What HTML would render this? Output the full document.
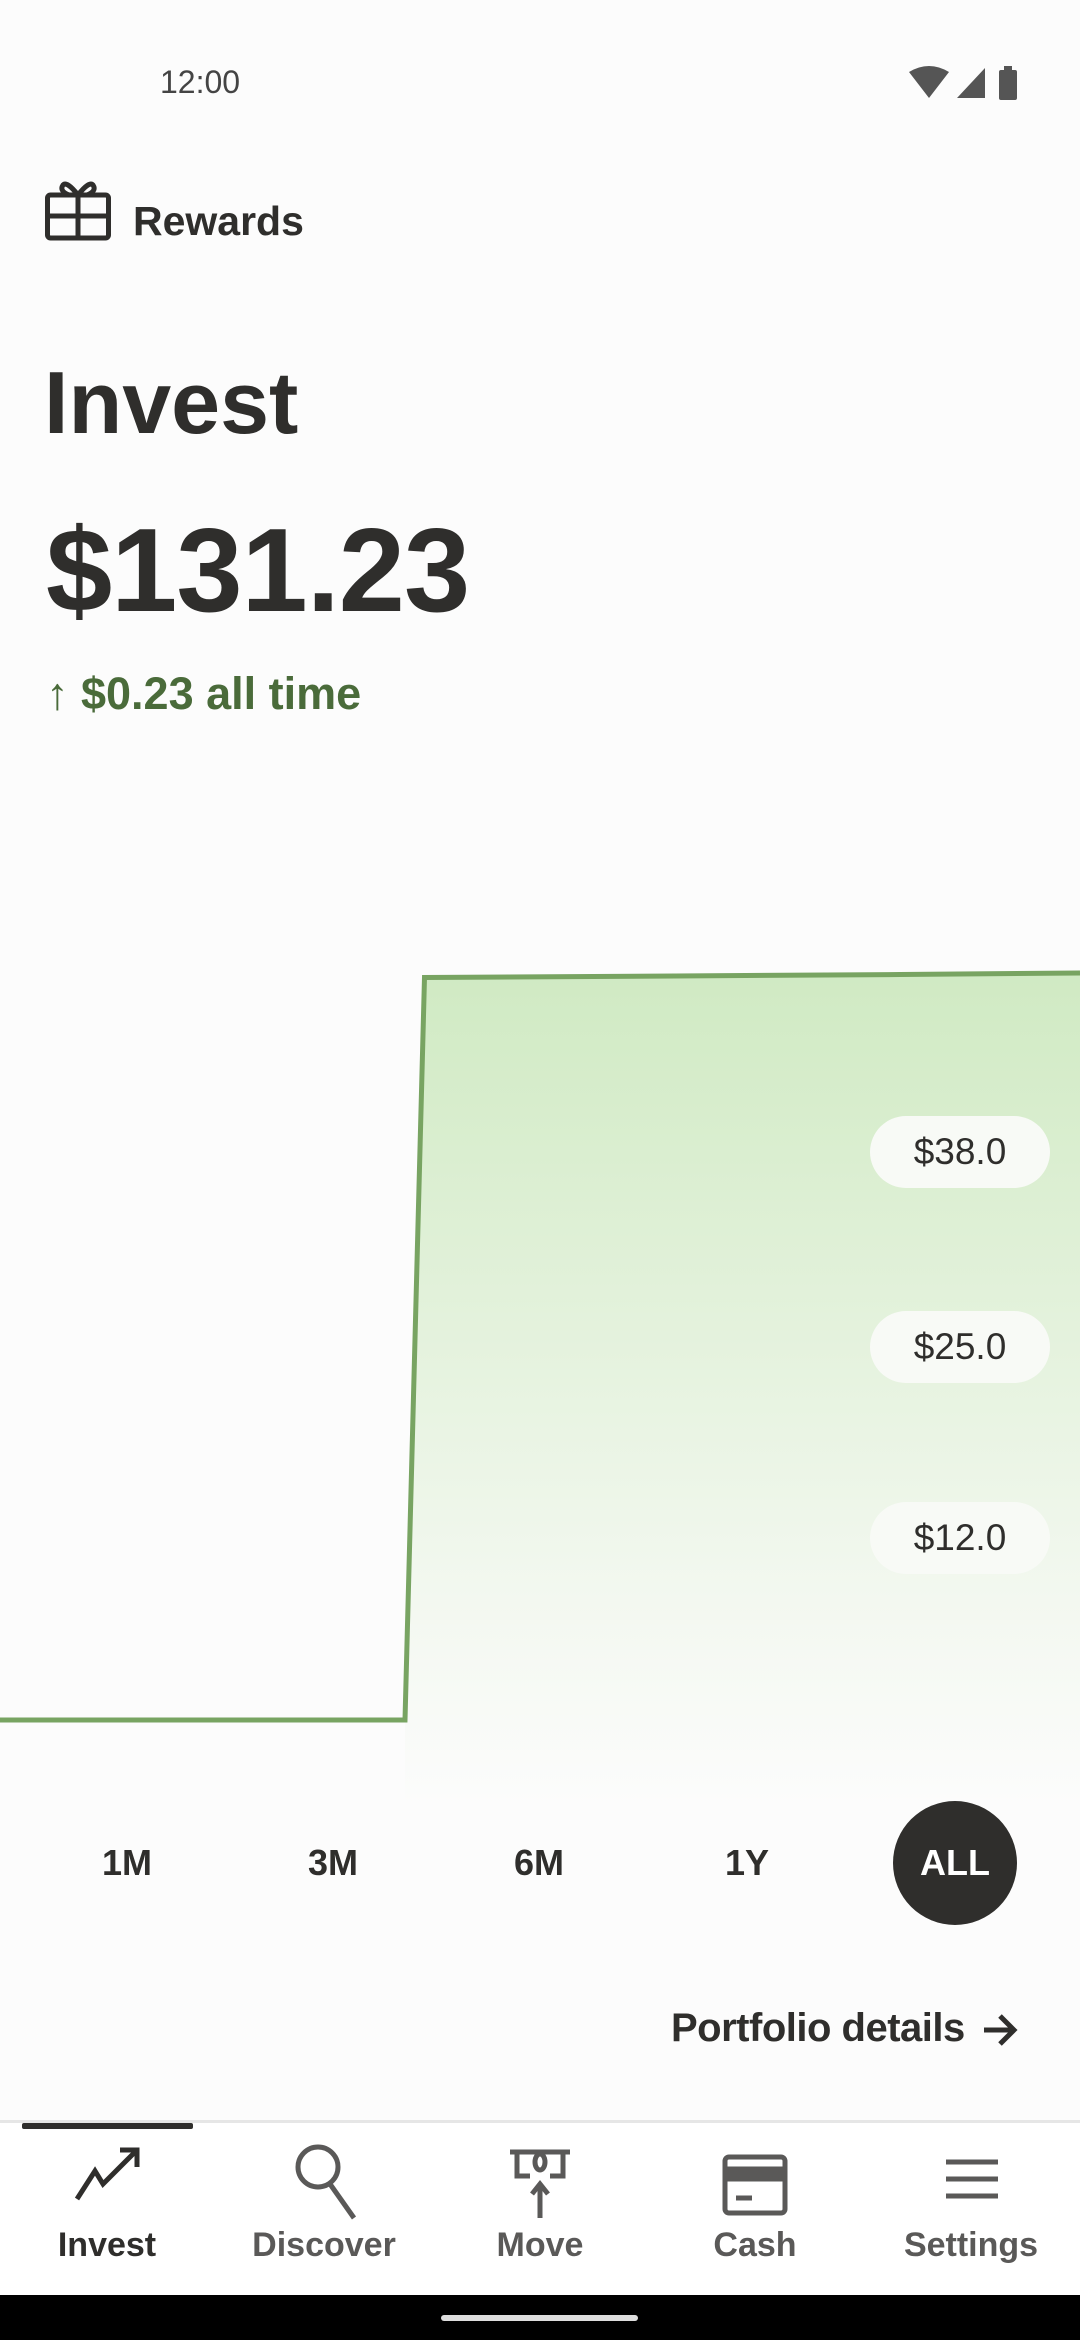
<!DOCTYPE html>
<html><head><meta charset="utf-8"><style>
body{margin:0;width:1080px;height:2340px;background:#fcfcfc;font-family:"Liberation Sans",sans-serif;color:#2f2e2c;position:relative;overflow:hidden}
.a{position:absolute;white-space:nowrap}
.pill{position:absolute;left:870px;width:180px;height:72px;border-radius:36px;background:#f8faf6;font-size:37px;text-align:center;line-height:72px;color:#2f2e2c}
.tr{position:absolute;top:1836px;font-size:36px;font-weight:bold;width:120px;text-align:center;line-height:54px}
.nav{position:absolute;top:2226px;font-size:34px;font-weight:bold;width:200px;text-align:center;color:#5a5958}
</style></head><body>
<div class="a" style="left:160px;top:64px;font-size:32px;color:#444">12:00</div>
<svg class="a" style="left:905px;top:64px" width="125" height="40">
<path d="M4 8 Q24 -4 44 8 L24 34 Z" fill="#555"/><path d="M52 34 L80 4 L80 34 Z" fill="#555"/><rect x="94" y="6" width="18" height="30" rx="2" fill="#555"/><rect x="99" y="2" width="8" height="5" fill="#555"/></svg>

<div>
<svg class="a" style="left:45px;top:179px" width="66" height="62" fill="none" stroke="#2f2e2c" stroke-width="5">
<rect x="2.5" y="16" width="61" height="43" rx="3"/><line x1="2.5" y1="37" x2="63.5" y2="37"/><line x1="33" y1="16" x2="33" y2="59"/>
<path d="M33 16 Q22 2 18 6 Q14 12 24 16 M33 16 Q44 2 48 6 Q52 12 42 16"/></svg>
<div class="a" style="left:133px;top:198px;font-size:41px;font-weight:bold">Rewards</div>
</div>

<div class="a" style="left:44px;top:352px;font-size:88px;font-weight:bold">Invest</div>
<div class="a" style="left:46px;top:502px;font-size:119px;font-weight:bold;letter-spacing:-1px">$131.23</div>
<div class="a" style="left:46px;top:668px;font-size:45px;font-weight:bold;color:#4a6b3a">↑ $0.23 all time</div>

<svg class="a" id="chart" style="left:0;top:0" width="1080" height="1810">
<defs><linearGradient id="g" x1="0" y1="0" x2="0" y2="1"><stop offset="0" stop-color="#d0eac3"/><stop offset="0.75" stop-color="#f3f8f0"/><stop offset="1" stop-color="#fcfcfc"/></linearGradient></defs>
</svg>
<div class="pill" style="top:1116px">$38.0</div>
<div class="pill" style="top:1311px">$25.0</div>
<div class="pill" style="top:1502px">$12.0</div>

<div class="tr" style="left:67px">1M</div>
<div class="tr" style="left:273px">3M</div>
<div class="tr" style="left:479px">6M</div>
<div class="tr" style="left:687px">1Y</div>
<div class="tr" style="left:893px;top:1801px;width:124px;height:124px;border-radius:62px;background:#2f2e2c;color:#fff;line-height:124px">ALL</div>

<div class="a" style="left:671px;top:2006px;font-size:40px;font-weight:bold;letter-spacing:-0.5px">Portfolio details</div>
<svg class="a" style="left:980px;top:2010px" width="40" height="40" fill="none" stroke="#2f2e2c" stroke-width="5"><path d="M4 20 L34 20 M20 6 L34 20 L20 34"/></svg>

<div class="a" style="left:0;top:2120px;width:1080px;height:175px;background:#fff;border-top:3px solid #e6e6e6">
<div class="a" style="left:22px;top:0;width:171px;height:6px;background:#2f2e2c;border-radius:2px"></div>
</div>
<svg class="a" style="left:0;top:2140px" width="1080" height="80" fill="none" stroke="#5a5958" stroke-width="5">
<path d="M77 59 L95 31 L103 44 L137 10 M120 10 L137 10 L137 27" stroke="#2f2e2c"/>
<circle cx="318" cy="27" r="20"/><line x1="330" y1="44" x2="354" y2="78"/>
<path d="M510 12 L570 12 M517 12 L517 36 L530 36 M563 12 L563 36 L550 36 M540 78 L540 44 M532 54 L540 44 L548 54"/><ellipse cx="540" cy="22" rx="5" ry="8"/>
<rect x="725" y="17" width="60" height="56" rx="4"/><rect x="725" y="29" width="60" height="10" fill="#5a5958"/><line x1="736" y1="58" x2="752" y2="58"/>
<path d="M946 22 L998 22 M946 39 L998 39 M946 56 L998 56"/>
</svg>
<div class="nav" style="left:7px;color:#2f2e2c">Invest</div>
<div class="nav" style="left:224px">Discover</div>
<div class="nav" style="left:440px">Move</div>
<div class="nav" style="left:655px">Cash</div>
<div class="nav" style="left:871px">Settings</div>
<div class="a" style="left:0;top:2295px;width:1080px;height:45px;background:#000">
<div class="a" style="left:441px;top:20px;width:197px;height:6px;border-radius:3px;background:#ddd"></div></div>

<script>
const days = [0, 27, 28.3, 45, 60, 72];
const values = [0, 0, 50.0, 50.1, 50.2, 50.3];
const ticks = [38, 25, 12];
const X0 = 0, X1 = 1080, dMax = 72;
function x(d){ return X0 + (X1 - X0) * d / dMax; }
function y(v){ return 1720 - v * 14.85; }
const svg = document.getElementById('chart');
const NS = 'http://www.w3.org/2000/svg';
let pts = days.map((d,i)=>x(d).toFixed(1)+','+y(values[i]).toFixed(1));
let firstUp = values.findIndex(v=>v>0);
let areaPts = [x(days[firstUp-1])+',1810'].concat(pts.slice(firstUp-1)).concat([x(days[days.length-1])+',1810']);
const area = document.createElementNS(NS,'polygon');
area.setAttribute('points', areaPts.join(' '));
area.setAttribute('fill','url(#g)');


svg.appendChild(area);
const line = document.createElementNS(NS,'polyline');
line.setAttribute('points', pts.join(' '));
line.setAttribute('fill','none');
line.setAttribute('stroke','#78a462');
line.setAttribute('stroke-width','5');


svg.appendChild(line);
</script>
</body></html>
